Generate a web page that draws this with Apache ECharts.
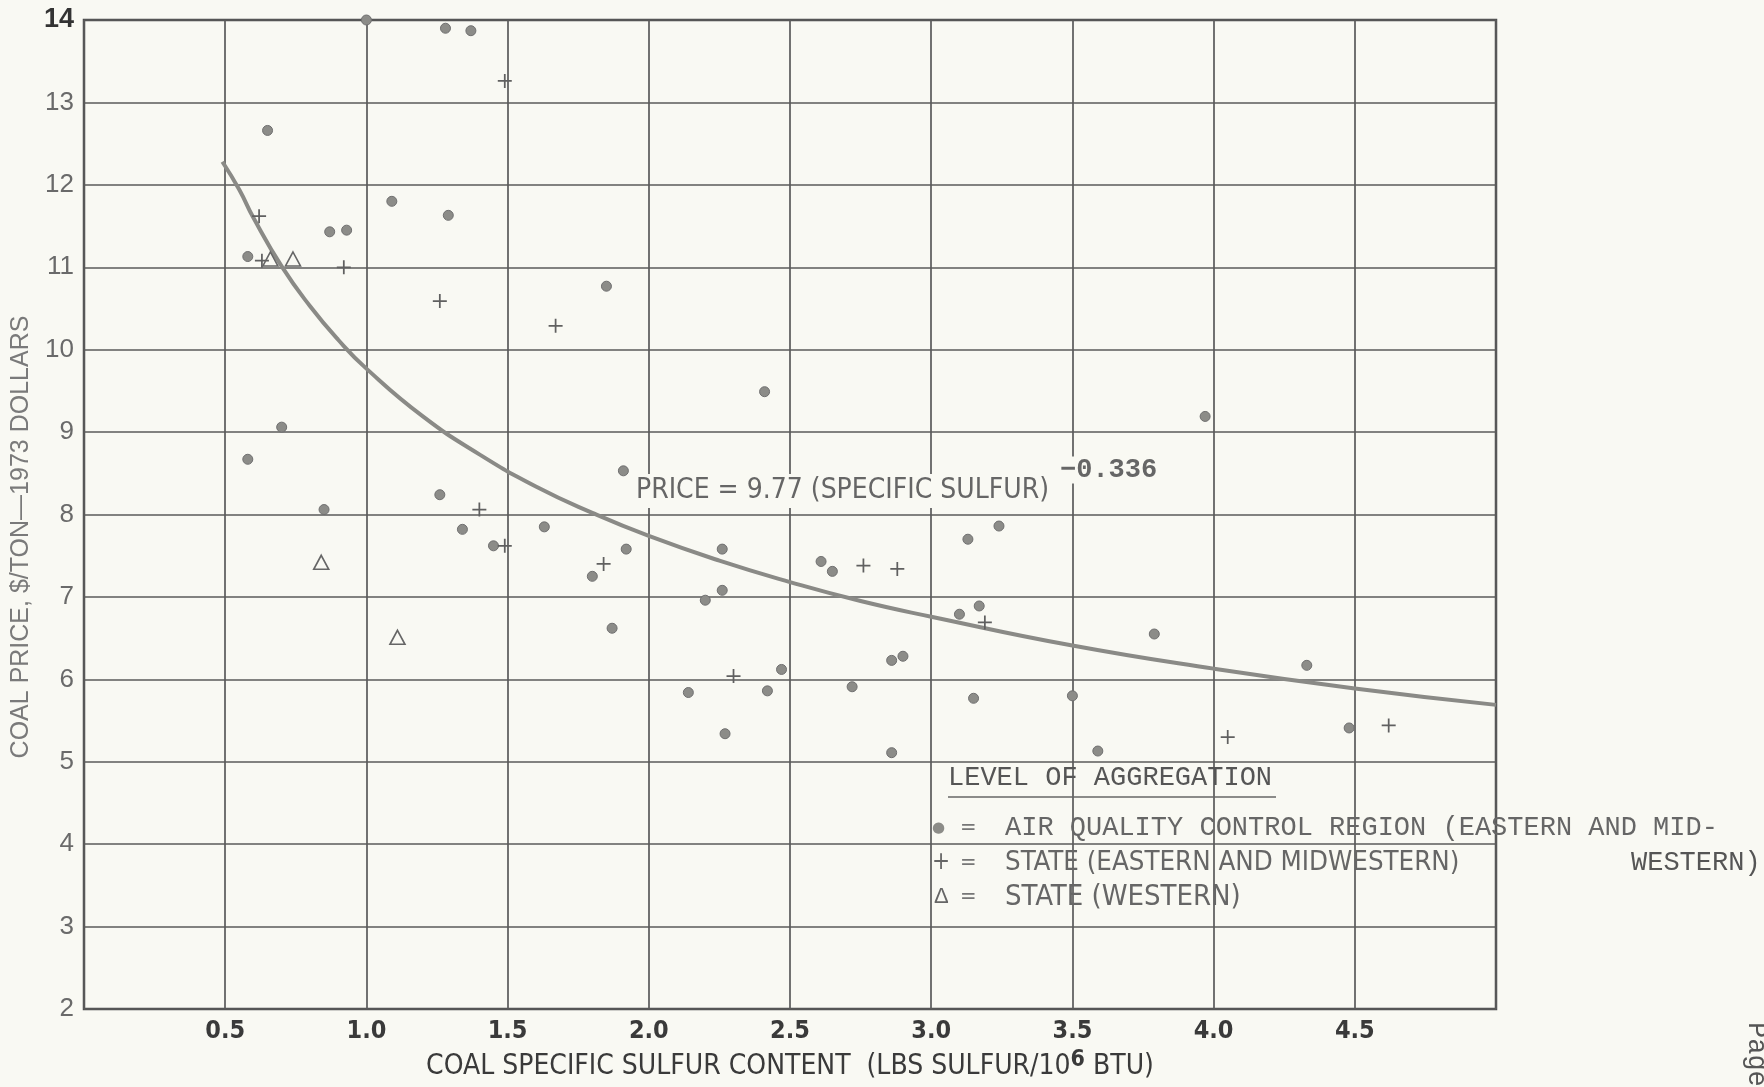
<!DOCTYPE html>
<html>
<head>
<meta charset="utf-8">
<script src="https://cdn.jsdelivr.net/npm/echarts@6/dist/echarts.min.js"></script>
<style>
html,body{margin:0;padding:0;background:#f9f9f3;}
#chart{width:1764px;height:1087px;}
</style>
</head>
<body>
<div id="chart"></div>
<script>
// ---- data ----
// Air quality control region (Eastern and Midwestern): [sulfur, price]
var aqcrX = [1.00,1.28,1.37,0.65,1.09,1.29,0.87,0.93,0.58,1.85,2.41,0.70,0.58,0.85,1.26,1.34,1.45,1.63,1.80,1.91,1.92,1.87,2.26,2.26,2.20,2.14,2.42,2.47,2.27,2.61,2.65,2.72,2.86,2.90,2.86,3.13,3.24,3.10,3.17,3.15,3.50,3.59,3.79,3.97,4.33,4.48];
var aqcrY = [14.0,13.90,13.87,12.66,11.80,11.63,11.43,11.45,11.13,10.77,9.49,9.06,8.67,8.06,8.24,7.82,7.62,7.85,7.25,8.53,7.58,6.62,7.58,7.08,6.96,5.84,5.86,6.12,5.34,7.43,7.31,5.91,6.23,6.28,5.11,7.70,7.86,6.79,6.89,5.77,5.80,5.13,6.55,9.19,6.17,5.41];
// State (Eastern and Midwestern)
var stateEMX = [1.49,0.62,0.63,0.92,1.26,1.67,1.40,1.49,1.84,2.30,2.76,2.88,3.19,4.05,4.62];
var stateEMY = [13.26,11.62,11.08,11.00,10.59,10.29,8.06,7.62,7.40,6.04,7.38,7.34,6.69,5.30,5.44];
// State (Western)
var stateWX = [0.66,0.74,0.84,1.11];
var stateWY = [11.10,11.10,7.42,6.51];
// Fitted curve, points
var curveX = [0.49,0.55,0.6,0.7,0.8,0.9,1.0,1.2,1.4,1.6,1.8,2.0,2.25,2.5,2.75,3.0,3.5,4.0,4.5,5.0];
var curveY = [12.28,11.94,11.60,11.01,10.53,10.12,9.77,9.19,8.73,8.34,8.02,7.74,7.44,7.18,6.95,6.76,6.41,6.13,5.89,5.69];
// Tick labels
var xTickLabels = ['0.5','1.0','1.5','2.0','2.5','3.0','3.5','4.0','4.5'];
var yTickLabels = ['2','3','4','5','6','7','8','9','10','11','12','13','14'];

function pairs(xs, ys){ return xs.map(function(x,i){ return [x, ys[i]]; }); }

var condensed = "'Liberation Sans Narrow','DejaVu Sans Condensed','Liberation Sans',sans-serif";
var mono = "'Liberation Mono','DejaVu Sans Mono',monospace";
var sans = "'Liberation Sans',sans-serif";

var chart = echarts.init(document.getElementById('chart'));
var plusPath = 'path://M5.25,0H6.75V5.25H12V6.75H6.75V12H5.25V6.75H0V5.25H5.25Z';

var option = {
  backgroundColor: '#f9f9f3',
  animation: false,
  grid: { left: 84, right: 268, top: 20, bottom: 78, show: true, borderColor: '#4e4e4e', borderWidth: 2.5, backgroundColor: 'transparent' },
  xAxis: {
    type: 'value', min: 0, max: 5, interval: 0.5,
    axisLine: { show: false }, axisTick: { show: false },
    splitLine: { show: true, lineStyle: { color: '#5a5a5a', width: 1.7 } },
    axisLabel: {
      margin: 10, fontFamily: condensed, fontSize: 25, fontWeight: 'bold', color: '#3a3a3a',
      formatter: function(v){ var s = v.toFixed(1); return xTickLabels.indexOf(s) >= 0 ? s : ''; }
    },
    name: 'COAL SPECIFIC SULFUR CONTENT  (LBS SULFUR/10{sup|6} BTU)',
    nameLocation: 'middle', nameGap: 40,
    nameTextStyle: {
      fontFamily: condensed, fontSize: 28, color: '#3a3a3a',
      rich: { sup: { fontFamily: condensed, fontSize: 23, fontWeight: 'bold', color: '#3a3a3a', verticalAlign: 'top', padding: [0,0,12,0] } }
    }
  },
  yAxis: {
    type: 'value', min: 2, max: 14, interval: 1,
    axisLine: { show: false }, axisTick: { show: false },
    splitLine: { show: true, lineStyle: { color: '#5a5a5a', width: 1.7 } },
    axisLabel: {
      margin: 10, fontFamily: sans, fontSize: 26, color: '#6a6a6a',
      formatter: function(v){ var s = String(v); if (yTickLabels.indexOf(s) < 0) return ''; return s === '14' ? '{b|14}' : s; },
      rich: { b: { fontFamily: sans, fontSize: 27, fontWeight: 'bold', color: '#333' } }
    }
  },
  series: [
    {
      name: 'curve', type: 'line', data: pairs(curveX, curveY), smooth: true, showSymbol: false,
      lineStyle: { color: '#8a8a86', width: 4 }, z: 3
    },
    {
      name: 'AQCR', type: 'scatter', data: pairs(aqcrX, aqcrY), symbol: 'circle', symbolSize: 10,
      itemStyle: { color: '#8c8c88', borderColor: '#707070', borderWidth: 1, opacity: 1 }, z: 4
    },
    {
      name: 'State EM', type: 'scatter', data: pairs(stateEMX, stateEMY), symbol: plusPath, symbolSize: 14, symbolKeepAspect: true,
      itemStyle: { color: '#606060', opacity: 1 }, z: 4
    },
    {
      name: 'State W', type: 'scatter', data: pairs(stateWX, stateWY), symbol: 'triangle', symbolSize: [15, 14],
      itemStyle: { color: 'transparent', borderColor: '#666', borderWidth: 1.6, opacity: 1 }, z: 4
    }
  ],
  graphic: [
    { type: 'text', x: 21, y: 537, rotation: Math.PI/2, z: 10,
      style: { text: 'COAL PRICE, $/TON\u20141973 DOLLARS', fontFamily: sans, fontSize: 25, fill: '#7a7a7a', textAlign: 'center', textVerticalAlign: 'middle' } },
    { type: 'text', x: 634, y: 491, z: 10,
      style: { text: 'PRICE = 9.77 (SPECIFIC SULFUR)', fontFamily: condensed, fontSize: 28, fill: '#666', textVerticalAlign: 'middle', backgroundColor: '#f9f9f3', padding: [4, 2, 2, 2] } },
    { type: 'text', x: 1060, y: 470, z: 10,
      style: { text: '\u22120.336', fontFamily: mono, fontSize: 27, fontWeight: 'bold', fill: '#666', textVerticalAlign: 'middle', backgroundColor: '#f9f9f3' } },
    { type: 'text', x: 948, y: 778, z: 10,
      style: { text: 'LEVEL OF AGGREGATION', fontFamily: mono, fontSize: 27, fill: '#555', textVerticalAlign: 'middle' } },
    { type: 'line', z: 10, shape: { x1: 948, y1: 797, x2: 1276, y2: 797 }, style: { stroke: '#666', lineWidth: 1.5 } },
    { type: 'text', x: 932, y: 828, z: 10,
      style: { text: '\u25CF', fontFamily: "'DejaVu Sans',sans-serif", fontSize: 15, fill: '#8c8c88', textVerticalAlign: 'middle' } },
    { type: 'text', x: 960, y: 828, z: 10,
      style: { text: '=', fontFamily: condensed, fontSize: 22, fill: '#777', textVerticalAlign: 'middle' } },
    { type: 'text', x: 1005, y: 828, z: 10,
      style: { text: 'AIR QUALITY CONTROL REGION (EASTERN AND MID-', fontFamily: mono, fontSize: 27, fill: '#666', textVerticalAlign: 'middle' } },
    { type: 'text', x: 932, y: 863, z: 10,
      style: { text: '+', fontFamily: condensed, fontSize: 24, fill: '#666', textVerticalAlign: 'middle' } },
    { type: 'text', x: 960, y: 863, z: 10,
      style: { text: '=', fontFamily: condensed, fontSize: 22, fill: '#777', textVerticalAlign: 'middle' } },
    { type: 'text', x: 1005, y: 863, z: 10,
      style: { text: 'STATE (EASTERN AND MIDWESTERN)', fontFamily: condensed, fontSize: 27.4, fill: '#666', textVerticalAlign: 'middle' } },
    { type: 'text', x: 1631, y: 863, z: 10,
      style: { text: 'WESTERN)', fontFamily: mono, fontSize: 27, fill: '#555', textVerticalAlign: 'middle' } },
    { type: 'text', x: 934, y: 897, z: 10,
      style: { text: '\u0394', fontFamily: sans, fontSize: 22, fill: '#666', textVerticalAlign: 'middle' } },
    { type: 'text', x: 960, y: 897, z: 10,
      style: { text: '=', fontFamily: condensed, fontSize: 22, fill: '#777', textVerticalAlign: 'middle' } },
    { type: 'text', x: 1005, y: 897, z: 10,
      style: { text: 'STATE (WESTERN)', fontFamily: condensed, fontSize: 29, fill: '#666', textVerticalAlign: 'middle' } },
    { type: 'text', x: 1756, y: 1022, rotation: -Math.PI/2, z: 10,
      style: { text: 'Page', fontFamily: mono, fontSize: 27, fill: '#555', textAlign: 'left', textVerticalAlign: 'middle' } }
  ]
};
chart.setOption(option);
</script>
</body>
</html>
